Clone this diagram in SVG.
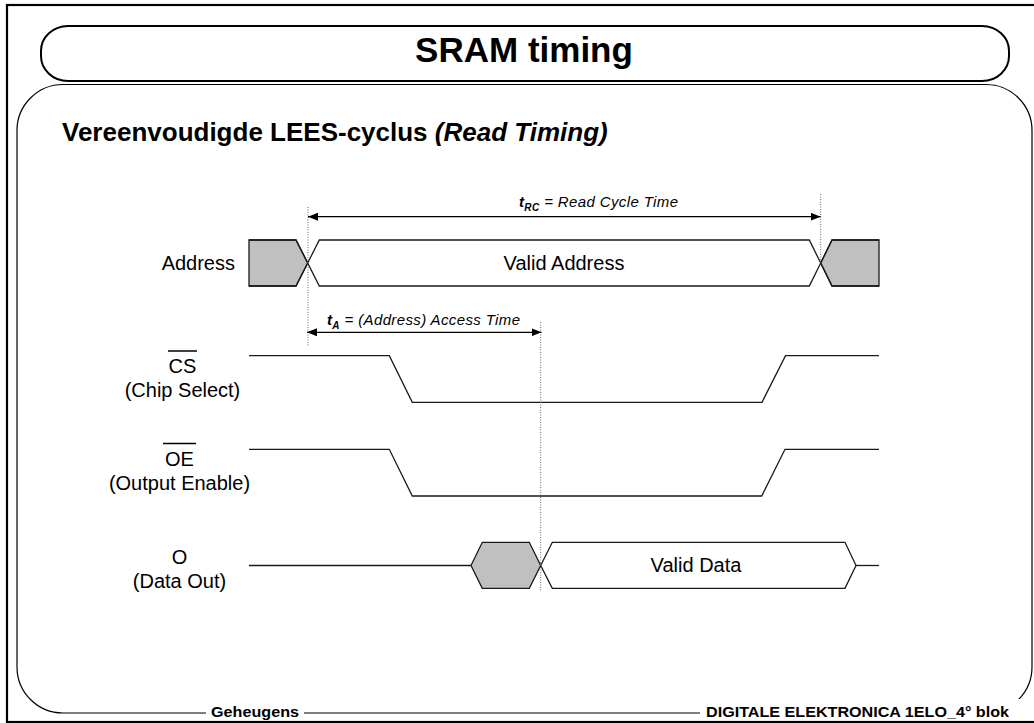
<svg xmlns="http://www.w3.org/2000/svg" width="1034" height="723" viewBox="0 0 1034 723">
  <style>
    .frame { fill: none; stroke: #000; }
    .sig { fill: none; stroke: #1a1a1a; stroke-width: 1.3; stroke-linejoin: miter; }
    .bus { fill: #ffffff; stroke: #1a1a1a; stroke-width: 1.3; }
    .busx { fill: #c0c0c0; stroke: #1a1a1a; stroke-width: 1.3; }
    .dot { fill: none; stroke: #666; stroke-width: 1; stroke-dasharray: 1 1.5; }
    .dim { fill: none; stroke: #000; stroke-width: 1.3; }
    .lbl { font-family: "Liberation Sans", Arial, sans-serif; font-size: 20px; fill: #000; }
    .tm { font-family: "Liberation Sans", Arial, sans-serif; font-size: 15px; font-style: italic; fill: #000; }
    .foot { font-family: "Liberation Sans", Arial, sans-serif; font-size: 15px; font-weight: bold; fill: #000; }
  </style>
  <defs>
    <marker id="ah" viewBox="0 0 10 8" refX="10" refY="4" markerWidth="10" markerHeight="8" markerUnits="userSpaceOnUse" orient="auto-start-reverse">
      <path d="M0,0 L10,4 L0,8 z" fill="#000"/>
    </marker>
  </defs>

  <rect width="1034" height="723" fill="#fff"/>

  <!-- slide frame -->
  <g id="slide-frame">
    <rect class="frame" x="7" y="5" width="1032" height="717" stroke-width="2.2"/>
    <rect class="frame" x="41" y="26" width="968" height="55" rx="27" ry="25" stroke-width="2"/>
    <path class="frame" stroke-width="1.2" d="M63,84.5 H986 A46,46 0 0 1 1032,130.5 V667 A46,46 0 0 1 986,713 H63 A46,46 0 0 1 17,667 V130.5 A46,46 0 0 1 63,84.5 Z"/>
    <rect x="206" y="704" width="98" height="15" fill="#fff"/>
    <rect x="700" y="699" width="334" height="20" fill="#fff"/>
    <text x="524" y="62" text-anchor="middle" font-family="'Liberation Sans', Arial, sans-serif" font-size="35" font-weight="bold">SRAM timing</text>
    <text class="foot" x="211" y="717" textLength="88" lengthAdjust="spacingAndGlyphs">Geheugens</text>
    <text class="foot" x="706" y="717" textLength="303" lengthAdjust="spacingAndGlyphs">DIGITALE ELEKTRONICA 1ELO_4° blok</text>
  </g>

  <text id="subtitle" x="62" y="141" font-family="'Liberation Sans', Arial, sans-serif" font-size="26" font-weight="bold">Vereenvoudigde LEES-cyclus <tspan font-style="italic">(Read Timing)</tspan></text>

  <!-- signal labels -->
  <g id="label-address">
    <text class="lbl" x="235" y="270" text-anchor="end">Address</text>
  </g>
  <g id="label-cs">
    <text class="lbl" x="182.5" y="373" text-anchor="middle">CS</text>
    <line x1="168" y1="351" x2="197" y2="351" stroke="#000" stroke-width="1.5"/>
    <text class="lbl" x="182.5" y="397" text-anchor="middle">(Chip Select)</text>
  </g>
  <g id="label-oe">
    <text class="lbl" x="179.5" y="466" text-anchor="middle">OE</text>
    <line x1="163" y1="443.5" x2="196" y2="443.5" stroke="#000" stroke-width="1.5"/>
    <text class="lbl" x="179.5" y="490" text-anchor="middle">(Output Enable)</text>
  </g>
  <g id="label-o">
    <text class="lbl" x="179.5" y="564" text-anchor="middle">O</text>
    <text class="lbl" x="179.5" y="588" text-anchor="middle">(Data Out)</text>
  </g>

  <!-- Address bus -->
  <g id="address-bus">
    <polygon class="busx" stroke="none" points="249,240 296,240 307.7,263 296,286 249,286"/>
    <polygon class="busx" stroke="none" points="820.7,263 832,240 879,240 879,286 832,286"/>
    <polygon class="bus" points="307.7,263 319.3,240 809.3,240 820.7,263 809.3,286 319.3,286"/>
    <path class="sig" d="M249,240 H296 L307.7,263 M249,286 H296 L307.7,263 M820.7,263 L832,240 H879 M820.7,263 L832,286 H879"/>
    <text class="lbl" x="564" y="270" text-anchor="middle">Valid Address</text>
  </g>

  <!-- Chip Select -->
  <g id="cs-signal">
    <path class="sig" d="M249,355.7 H389.3 L412.3,402.3 H762 L785.5,355.7 H879"/>
  </g>

  <!-- Output Enable -->
  <g id="oe-signal">
    <path class="sig" d="M249,449.3 H389.3 L412.3,496 H761.7 L785,449.3 H879"/>
  </g>

  <!-- Data out bus -->
  <g id="data-bus">
    <line class="sig" x1="249" y1="565.5" x2="471" y2="565.5"/>
    <polygon class="busx" points="471,565.5 482.3,542.3 529.3,542.3 540.7,565.5 529.3,588.3 482.3,588.3"/>
    <polygon class="bus" points="540.7,565.5 552.3,542.3 845,542.3 856,565.5 845,588.3 552.3,588.3"/>
    <line class="sig" x1="856" y1="565.5" x2="879" y2="565.5"/>
    <text class="lbl" x="696" y="572" text-anchor="middle">Valid Data</text>
  </g>

  <!-- timing references and dimension arrows -->
  <g id="connectors">
    <line class="dot" x1="308" y1="207" x2="308" y2="346"/>
    <line class="dot" x1="820.7" y1="194" x2="820.7" y2="263"/>
    <line class="dot" x1="540.7" y1="322" x2="540.7" y2="591"/>
    <line class="dim" x1="308" y1="216.7" x2="820.7" y2="216.7" marker-start="url(#ah)" marker-end="url(#ah)"/>
    <line class="dim" x1="307" y1="332.3" x2="541.5" y2="332.3" marker-start="url(#ah)" marker-end="url(#ah)"/>
    <text class="tm" x="519" y="207" textLength="159"><tspan font-weight="bold">t</tspan><tspan font-weight="bold" font-size="10" dy="4">RC</tspan><tspan dy="-4"> = Read Cycle Time</tspan></text>
    <text class="tm" x="327" y="325" textLength="193"><tspan font-weight="bold">t</tspan><tspan font-weight="bold" font-size="10" dy="4">A</tspan><tspan dy="-4"> = (Address) Access Time</tspan></text>
  </g>
</svg>
